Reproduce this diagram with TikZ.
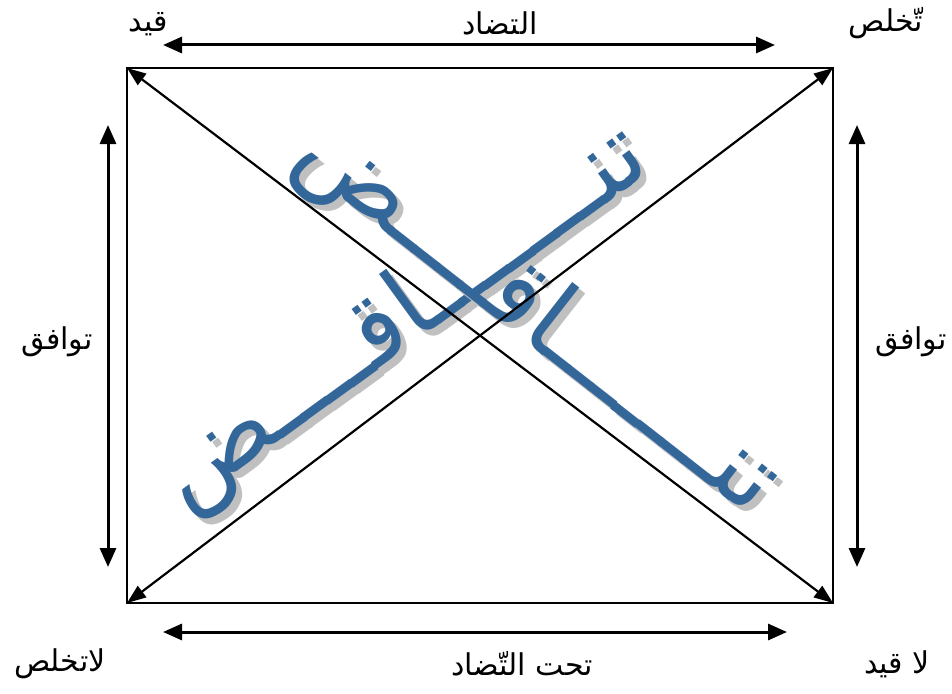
\documentclass[tikz,border=0pt]{standalone}
\usepackage{fontspec}
\usepackage{xcolor}
\usetikzlibrary{arrows.meta}
\newfontfamily\arabicfont[Script=Arabic]{DejaVu Sans}
\TeXXeTstate=1
\definecolor{wordblue}{HTML}{336699}
\definecolor{wordshade}{HTML}{C0C0C0}
\tikzset{lbl/.style={font=\arabicfont\fontsize{30}{34}\selectfont, inner sep=0pt},
         bigword/.style={font=\arabicfont\fontsize{100}{110}\selectfont, inner sep=0pt, anchor=base},
         darr/.style={{Triangle[length=19pt,width=16pt]}-{Triangle[length=19pt,width=16pt]}, line width=3pt},
         diag/.style={{Triangle[length=19pt,width=14pt]}-{Triangle[length=19pt,width=14pt]}, line width=2.2pt}}
\newcommand{\rtl}[1]{\beginR #1\endR}

\begin{document}
\begin{tikzpicture}[x=1pt, y=-1pt]
\useasboundingbox (0,0) rectangle (952,693);
% square corners
\coordinate (tl) at (127,68);
\coordinate (tr) at (833,68);
\coordinate (bl) at (127,603);
\coordinate (br) at (833,603);
\draw[line width=2.4pt] (tl) rectangle (br);
% big diagonal words with shadow
\node[bigword, rotate=36, text=wordshade] (contraUpS) at (425,346) {\rtl{تنـــــــاقــــض}};
\node[bigword, rotate=36, text=wordblue] (contraUp) at (419,340) {\rtl{تنـــــــاقــــض}};
\node[bigword, rotate=-38, text=wordshade] (contraDnS) at (527,344) {\rtl{تنـــــــاقــــض}};
\node[bigword, rotate=-38, text=wordblue] (contraDn) at (521,338) {\rtl{تنـــــــاقــــض}};
\draw[diag] (tl) -- (br);
\draw[diag] (bl) -- (tr);
% outer arrows
\coordinate (topL) at (163,45);  \coordinate (topR) at (775,45);
\coordinate (botL) at (163,632); \coordinate (botR) at (787,632);
\coordinate (lefT) at (108,125); \coordinate (lefB) at (108,567);
\coordinate (rigT) at (857,125); \coordinate (rigB) at (857,567);
\draw[darr] (topL) -- (topR);
\draw[darr] (botL) -- (botR);
\draw[darr] (lefT) -- (lefB);
\draw[darr] (rigT) -- (rigB);
% labels
\node[lbl] (qayd) at (148,24) {\rtl{قيد}};
\node[lbl] (takh) at (886,23) {\rtl{تّخلص}};
\node[lbl] (tadad) at (500,23) {\rtl{التضاد}};
\node[lbl] (latakh) at (60,664) {\rtl{لاتخلص}};
\node[lbl] (taht) at (522,664) {\rtl{تحت التّضاد}};
\node[lbl] (laqayd) at (897,664) {\rtl{لا قيد}};
\node[lbl] (tawL) at (57,342) {\rtl{توافق}};
\node[lbl] (tawR) at (911,342) {\rtl{توافق}};
\end{tikzpicture}
\end{document}
